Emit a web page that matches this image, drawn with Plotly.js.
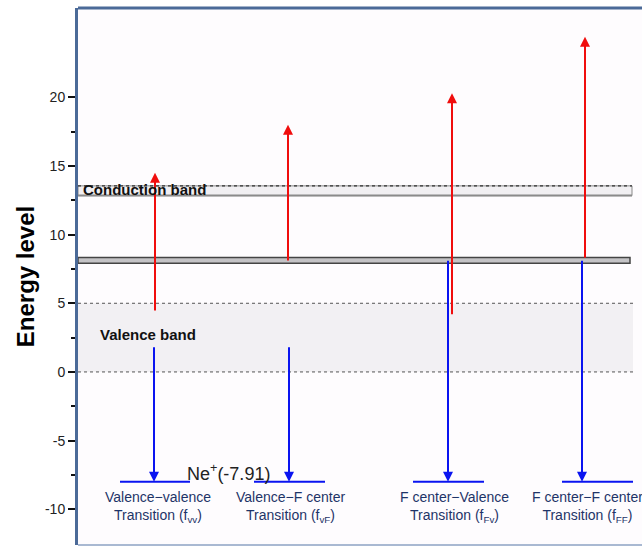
<!DOCTYPE html>
<html>
<head>
<meta charset="utf-8">
<script src="https://cdn.plot.ly/plotly-3.0.1.min.js"></script>
<style>html,body{margin:0;padding:0;background:#fff;}</style>
</head>
<body>
<div id="chart" style="width:642px;height:547px;"></div>
<script>
// ---- data (x in horizontal diagram units, y in energy units) ----
const transitionLabels = [
  "Valence\u2212valence<br>Transition (f<sub>vv</sub>)",
  "Valence\u2212F center<br>Transition (f<sub>vF</sub>)",
  "F center\u2212Valence<br>Transition (f<sub>Fv</sub>)",
  "F center\u2212F center<br>Transition (f<sub>FF</sub>)"
];
const labelX = [80, 212, 376, 509];
const redX = [77, 210, 374, 507];
const redFrom = [4.37, 8.0, 4.1, 8.2];
const redTo = [14.5, 18.0, 20.3, 24.4];
const blueX = [76, 211, 370, 504];
const blueFrom = [1.9, 1.9, 8.2, 8.2];
const blueTo = [-8.0, -8.0, -8.0, -8.0];
const levelStart = [42, 176, 335, 484];
const levelEnd = [112, 247, 406, 555];
const levelY = -8.0;
const neLabel = "Ne<sup>+</sup>(-7.91)";
const conductionBand = [12.84, 13.55];
const fCenterBand = [7.92, 8.33];
const valenceBand = [0, 5];
const bandEndX = 554;
const yTicks = [-10, -5, 0, 5, 10, 15, 20];
const yMinorTicks = [-7.5, -2.5, 2.5, 7.5, 12.5, 17.5];

const shapes = [];
// valence band shading
shapes.push({type:'rect', xref:'x', yref:'y', x0:0, x1:bandEndX+1, y0:valenceBand[0], y1:valenceBand[1],
  fillcolor:'#f2f0f3', line:{width:0}, layer:'below'});
shapes.push({type:'line', xref:'x', yref:'y', x0:0, x1:bandEndX+1, y0:valenceBand[1], y1:valenceBand[1],
  line:{color:'#555', width:1, dash:'dot'}, layer:'below'});
shapes.push({type:'line', xref:'x', yref:'y', x0:0, x1:bandEndX+1, y0:valenceBand[0], y1:valenceBand[0],
  line:{color:'#555', width:1, dash:'dot'}, layer:'below'});
// conduction band
shapes.push({type:'rect', xref:'x', yref:'y', x0:0, x1:bandEndX, y0:conductionBand[0], y1:conductionBand[1],
  fillcolor:'#f1eff2', line:{color:'#888', width:1}, layer:'below'});
shapes.push({type:'line', xref:'x', yref:'y', x0:0, x1:bandEndX, y0:conductionBand[1], y1:conductionBand[1],
  line:{color:'#333', width:1.2, dash:'dot'}, layer:'below'});
shapes.push({type:'line', xref:'x', yref:'y', x0:0, x1:bandEndX, y0:conductionBand[0], y1:conductionBand[0],
  line:{color:'#8a8a8a', width:2}, layer:'below'});
// F-center band
shapes.push({type:'rect', xref:'x', yref:'y', x0:0, x1:bandEndX-2, y0:fCenterBand[0], y1:fCenterBand[1],
  fillcolor:'#c4c3c6', line:{color:'#444', width:1.5}, layer:'below'});
// frame top / bottom
shapes.push({type:'line', xref:'paper', yref:'paper', x0:0, x1:1, y0:1, y1:1, line:{color:'#4b6a98', width:3}});
shapes.push({type:'line', xref:'paper', yref:'paper', x0:0, x1:1, y0:0, y1:0, line:{color:'#a9b9d2', width:2}});

// level lines as traces
const traces = [];
for (let i = 0; i < levelStart.length; i++) {
  traces.push({x:[levelStart[i], levelEnd[i]], y:[levelY, levelY], mode:'lines',
    line:{color:'#0a14f0', width:2}, hoverinfo:'skip', showlegend:false});
}

const annotations = [];
for (let i = 0; i < redX.length; i++) {
  annotations.push({x:redX[i], y:redTo[i], ax:redX[i], ay:redFrom[i], xref:'x', yref:'y', axref:'x', ayref:'y',
    text:'', showarrow:true, arrowhead:2, arrowsize:1, arrowwidth:2, arrowcolor:'#f00d0d'});
  annotations.push({x:blueX[i], y:blueTo[i], ax:blueX[i], ay:blueFrom[i], xref:'x', yref:'y', axref:'x', ayref:'y',
    text:'', showarrow:true, arrowhead:2, arrowsize:1, arrowwidth:2, arrowcolor:'#0a14f0'});
  annotations.push({x:labelX[i], y:-9.85, xref:'x', yref:'y', text:transitionLabels[i], showarrow:false,
    font:{family:'Liberation Sans, Arial, sans-serif', size:14, color:'#1e3468'}, align:'center'});
}
annotations.push({x:150, y:-7.3, xref:'x', yref:'y', text:neLabel, showarrow:false,
  font:{family:'Liberation Sans, Arial, sans-serif', size:18, color:'#222'}});
annotations.push({x:3, y:13.25, xref:'x', yref:'y', text:'<b>Conduction band</b>', showarrow:false, xanchor:'left',
  font:{family:'Liberation Sans, Arial, sans-serif', size:15, color:'#111'}});
annotations.push({x:20, y:2.75, xref:'x', yref:'y', text:'<b>Valence band</b>', showarrow:false, xanchor:'left',
  font:{family:'Liberation Sans, Arial, sans-serif', size:15, color:'#111'}});

const layout = {
  width:642, height:547,
  margin:{l:78, r:0, t:8, b:2},
  paper_bgcolor:'#ffffff', plot_bgcolor:'#fefcfe',
  showlegend:false,
  xaxis:{range:[0, 564], visible:false, fixedrange:true},
  yaxis:{range:[-12.6, 26.5], tickvals:yTicks, ticktext:yTicks.map(String), ticks:'outside', ticklen:7, tickwidth:2,
    tickcolor:'#111', showgrid:false, zeroline:false, showline:true, linecolor:'#4b6a98', linewidth:3,
    tickfont:{family:'Liberation Sans, Arial, sans-serif', size:14, color:'#222'},
    minor:{tickvals:yMinorTicks, ticks:'outside', ticklen:4, tickwidth:2, tickcolor:'#111'},
    title:{text:'<b>Energy level</b>', font:{family:'Liberation Sans, Arial, sans-serif', size:24, color:'#000'}, standoff:4}},
  shapes:shapes, annotations:annotations
};
Plotly.newPlot('chart', traces, layout, {displayModeBar:false, staticPlot:true});
</script>
</body>
</html>
